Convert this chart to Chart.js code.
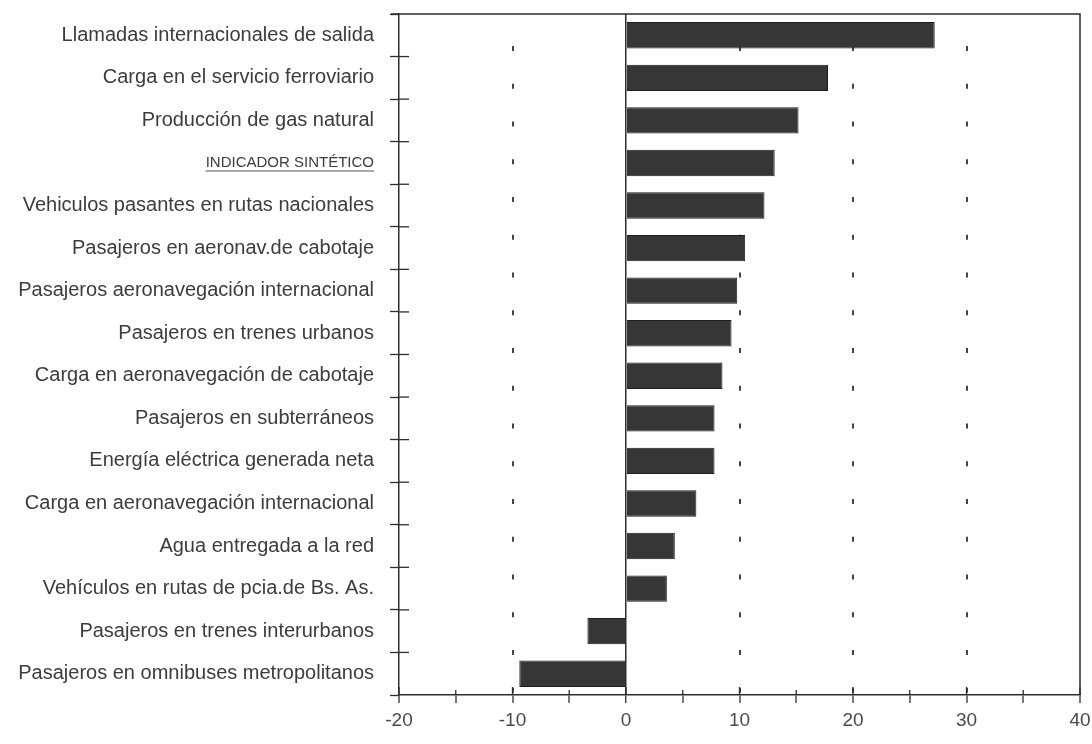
<!DOCTYPE html>
<html>
<head>
<meta charset="utf-8">
<script src="https://cdn.jsdelivr.net/npm/chart.js@4/dist/chart.umd.min.js"></script>
<style>
  html, body { margin: 0; padding: 0; background: #fff; }
  #wrap { width: 1092px; height: 744px; }
</style>
</head>
<body>
<div id="wrap"><canvas id="chart" width="1092" height="744"></canvas></div>
<script>
'use strict';

// indicadores (orden de arriba hacia abajo)
var categories = [
    'Llamadas internacionales de salida',
    'Carga en el servicio ferroviario',
    'Producción de gas natural',
    'INDICADOR SINTÉTICO',
    'Vehiculos pasantes en rutas nacionales',
    'Pasajeros en aeronav.de cabotaje',
    'Pasajeros aeronavegación internacional',
    'Pasajeros en trenes urbanos',
    'Carga en aeronavegación de cabotaje',
    'Pasajeros en subterráneos',
    'Energía eléctrica generada neta',
    'Carga en aeronavegación internacional',
    'Agua entregada a la red',
    'Vehículos en rutas de pcia.de Bs. As.',
    'Pasajeros en trenes interurbanos',
    'Pasajeros en omnibuses metropolitanos'
];

// variacion porcentual
var variacion = [27.2, 17.8, 15.2, 13.1, 12.2, 10.5, 9.8, 9.3, 8.5, 7.8, 7.8, 6.2, 4.3, 3.6, -3.4, -9.4];

var xMin = -20, xMax = 40, xStep = 5;
var gridValues = [-10, 10, 20, 30];
var sintetico = 'INDICADOR SINTÉTICO';

var INK = '#2e2e2e';
var FAMILY = '"Liberation Sans", Arial, sans-serif';

// marco, marcas interiores y subrayado del indicador sintetico
var framePlugin = {
    id: 'frame',
    afterDraw: function(chart){
        var ctx = chart.ctx;
        var a = chart.chartArea;
        var xs = chart.scales.x, ys = chart.scales.y;
        ctx.save();
        ctx.strokeStyle = INK;
        ctx.lineWidth = 1.5;
        ctx.beginPath();
        ctx.moveTo(a.left - 8, a.top);
        ctx.lineTo(a.right, a.top);
        ctx.lineTo(a.right, a.bottom);
        ctx.stroke();

        // marcas hacia adentro en el eje x
        ctx.lineWidth = 1.3;
        xs.ticks.forEach(function(t){
            var px = xs.getPixelForValue(t.value);
            var len = (t.value % 10 === 0) ? 8 : 5;
            ctx.beginPath();
            ctx.moveTo(px, a.bottom);
            ctx.lineTo(px, a.bottom - len);
            ctx.stroke();
        });
        // marcas hacia adentro en el eje y (limites de categorias)
        for (var i = 0; i < categories.length - 1; i++) {
            var py = (ys.getPixelForValue(i) + ys.getPixelForValue(i + 1)) / 2;
            ctx.beginPath();
            ctx.moveTo(a.left, py);
            ctx.lineTo(a.left + 10, py);
            ctx.stroke();
        }

        // subrayado
        var idx = categories.indexOf(sintetico);
        if (idx >= 0) {
            ctx.font = '15px ' + FAMILY;
            var w = ctx.measureText(sintetico).width;
            var yy = ys.getPixelForValue(idx) + 8;
            var xr = a.left - 9 - ys.options.ticks.padding;
            ctx.lineWidth = 1;
            ctx.strokeStyle = '#555';
            ctx.beginPath();
            ctx.moveTo(xr - w, yy);
            ctx.lineTo(xr, yy);
            ctx.stroke();
        }
        ctx.restore();
    }
};

var Grafico = function(){

    var _crear = function(){
        var ctx = document.getElementById('chart').getContext('2d');
        var config = {
            type: 'bar',
            data: {
                labels: categories,
                datasets: [{
                    label: 'Variación %',
                    data: variacion,
                    backgroundColor: '#363636',
                    borderColor: '#1e1e1e',
                    borderWidth: 1,
                    barPercentage: 0.62,
                    categoryPercentage: 1.0
                }]
            },
            options: {
                indexAxis: 'y',
                responsive: false,
                animation: false,
                layout: { padding: 0 },
                plugins: {
                    legend: { display: false },
                    tooltip: { enabled: false }
                },
                scales: {
                    x: {
                        type: 'linear',
                        min: xMin,
                        max: xMax,
                        afterFit: function(s){
                            s.height = 49;
                            s.paddingLeft = 0;
                            s.paddingRight = 12;
                        },
                        ticks: {
                            stepSize: xStep,
                            autoSkip: false,
                            maxRotation: 0,
                            padding: 6,
                            color: '#4a4a4a',
                            font: { family: FAMILY, size: 19 },
                            callback: function(v){ return (v % 10 === 0) ? String(v) : ''; }
                        },
                        grid: {
                            drawTicks: true,
                            tickLength: 8,
                            tickColor: INK,
                            tickWidth: 1.3,
                            lineWidth: function(c){
                                return (c.tick && c.tick.value === 0) ? 1.5 : 2;
                            },
                            color: function(c){
                                if (!c.tick) return 'rgba(0,0,0,0)';
                                if (c.tick.value === 0) return INK;
                                if (gridValues.indexOf(c.tick.value) >= 0) return '#444';
                                return 'rgba(0,0,0,0)';
                            }
                        },
                        border: {
                            display: true,
                            color: INK,
                            width: 1.5,
                            dash: function(c){
                                return (c.tick && c.tick.value === 0) ? [] : [5, 32.75];
                            },
                            dashOffset: 5.75
                        }
                    },
                    y: {
                        type: 'category',
                        afterFit: function(s){
                            s.width = 399;
                            s.paddingTop = 14;
                            s.paddingBottom = 0;
                        },
                        ticks: {
                            padding: 16,
                            autoSkip: false,
                            color: '#3c3c3c',
                            font: function(c){
                                if (c.tick && c.tick.label === sintetico) {
                                    return { family: FAMILY, size: 15 };
                                }
                                return { family: FAMILY, size: 20 };
                            }
                        },
                        grid: {
                            offset: true,
                            drawOnChartArea: false,
                            drawTicks: true,
                            tickLength: 9,
                            tickColor: INK,
                            tickWidth: 1.3
                        },
                        border: {
                            display: true,
                            color: INK,
                            width: 1.5
                        }
                    }
                }
            },
            plugins: [framePlugin]
        };
        window.grafico = new Chart(ctx, config);
    };

    return {
        init: function(){
            _crear();
        }
    };
}();

document.addEventListener('DOMContentLoaded', function(){
    Grafico.init();
});
</script>
</body>
</html>
